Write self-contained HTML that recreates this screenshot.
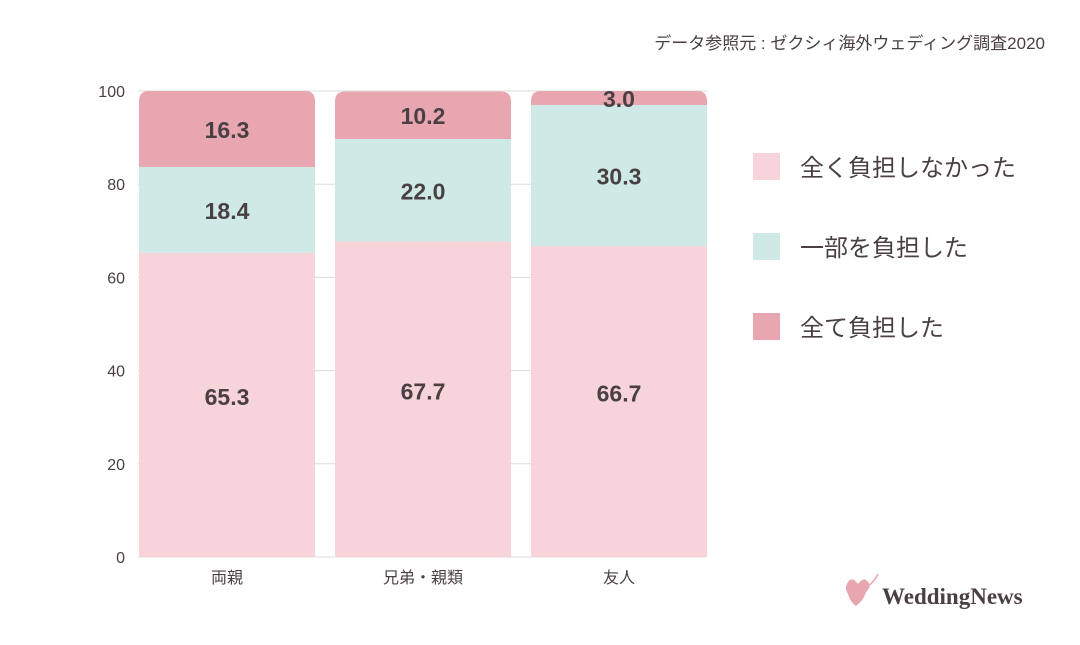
<!DOCTYPE html>
<html><head><meta charset="utf-8"><style>
body{margin:0;background:#fff;width:1080px;height:640px;overflow:hidden;font-family:"Liberation Sans","Noto Sans CJK JP",sans-serif}
</style></head><body>
<svg id="chart" width="1080" height="640" xmlns="http://www.w3.org/2000/svg" font-family="Liberation Sans, Noto Sans CJK JP, sans-serif">
<text x="1045" y="49" text-anchor="end" font-size="17" fill="#4a4044">データ参照元 : ゼクシィ海外ウェディング調査2020</text>
<g id="grid"></g><g id="bars"></g><g id="labels"></g><g id="legend"></g>
<g>
<path d="M848 582 q4 -6 10 2 q6 -8 10 -2 q4 4 -2 10 q-2 8 -10 14 q-6 -4 -8 -12 q-4 -6 0 -12z" fill="#e8a7b0"/>
<path d="M868 586 q6 -4 10 -12" stroke="#e8a7b0" stroke-width="1.5" fill="none"/>
<text x="882" y="604" font-family="Liberation Serif, serif" font-weight="bold" font-size="23" fill="#4a4044">WeddingNews</text>
</g>
</svg>
<script>
const categories=["両親","兄弟・親類","友人"];
const seriesNames=["全く負担しなかった","一部を負担した","全て負担した"];
const none=[65.3,67.7,66.7];
const partial=[18.4,22.0,30.3];
const full=[16.3,10.2,3.0];
const ticks=[0,20,40,60,80,100];
const colors=["#f7d4da","#cfeae6","#e8a7b0"];
const NS="http://www.w3.org/2000/svg";
const x0=138,x1=707,y0=557,yTop=91;
const y=v=>y0-(v/100)*(y0-yTop);
const bw=176, gap=20;
const bx=i=>x0+1+i*(bw+gap);
function mk(tag,attrs,parent){const e=document.createElementNS(NS,tag);for(const k in attrs)e.setAttribute(k,attrs[k]);parent.appendChild(e);return e;}
const grid=document.getElementById('grid'),bars=document.getElementById('bars'),labels=document.getElementById('labels'),legend=document.getElementById('legend');
ticks.forEach(t=>{
 const l=mk('line',{x1:x0,x2:x1,y1:y(t),y2:y(t),stroke:'#dcdcdc','stroke-width':1},grid);
 
 
 const tx=mk('text',{x:125,y:y(t)+6,'text-anchor':'end','font-size':16,fill:'#4a4044'},grid);
 tx.textContent=t;
 
 
});
const series=[none,partial,full];
categories.forEach((c,i)=>{
 const X=bx(i);let cum=0;
 const total=none[i]+partial[i]+full[i];
 const cp=mk('clipPath',{id:'cp'+i},bars);
 const r=10,top=y(total);
 mk('path',{d:`M${X} ${y0} V${top+r} Q${X} ${top} ${X+r} ${top} H${X+bw-r} Q${X+bw} ${top} ${X+bw} ${top+r} V${y0} Z`},cp);
 const g=mk('g',{'clip-path':'url(#cp'+i+')'},bars);
 series.forEach((s,k)=>{
  const v=s[i];
  const rc=mk('rect',{x:X,y:y(cum+v),width:bw,height:y(cum)-y(cum+v),fill:colors[k]},g);
  
  
  const off=k===0?0:9;
  const t=mk('text',{x:X+bw/2,y:(y(cum)+y(cum+v))/2+off,'text-anchor':'middle','font-size':23,'font-weight':'bold',fill:'#4a4044'},labels);
  t.textContent=v.toFixed(1);
  
  
  cum+=v;
 });
 const ct=mk('text',{x:X+bw/2,y:583,'text-anchor':'middle','font-size':16,fill:'#4a4044'},labels);
 ct.textContent=c;
 
 
});
seriesNames.forEach((n,k)=>{
 const yy=153+k*80;
 const sq=mk('rect',{x:753,y:yy,width:27,height:27,fill:colors[k]},legend);
 
 
 const t=mk('text',{x:800,y:yy+23,'font-size':24,fill:'#4a4044'},legend);
 t.textContent=n;
 
 
});
</script>
</body></html>
